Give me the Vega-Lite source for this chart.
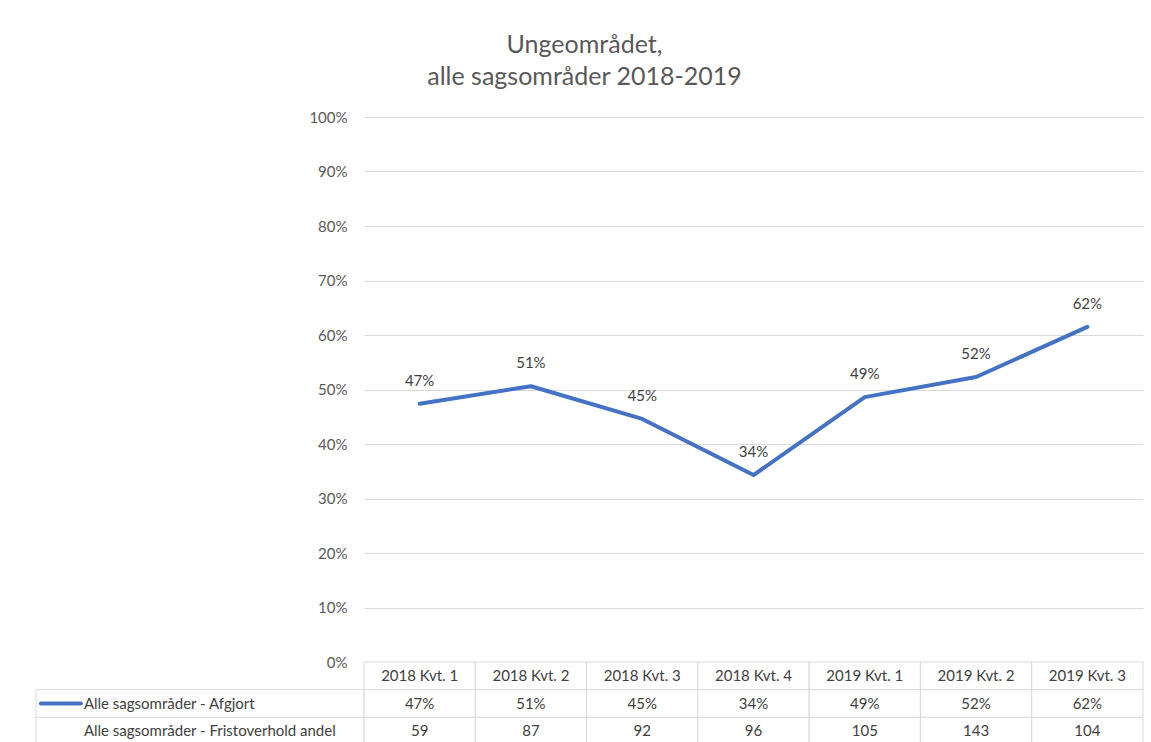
{
  "$schema": "https://vega.github.io/schema/vega-lite/v6.json",
  "background": "white",
  "padding": {"left": 35, "top": 33, "right": 9, "bottom": 0},
  "title": {
    "text": ["Ungeområdet,", "alle sagsområder 2018-2019"],
    "fontSize": 25,
    "lineHeight": 32,
    "font": "Lato",
    "fontWeight": "normal",
    "color": "#595959",
    "anchor": "middle",
    "offset": 20,
    "dx": -5
  },
  "datasets": {
    "main": [
      {"kvt": "2018 Kvt. 1", "afgjort": 0.474, "frist": 59},
      {"kvt": "2018 Kvt. 2", "afgjort": 0.506, "frist": 87},
      {"kvt": "2018 Kvt. 3", "afgjort": 0.446, "frist": 92},
      {"kvt": "2018 Kvt. 4", "afgjort": 0.343, "frist": 96},
      {"kvt": "2019 Kvt. 1", "afgjort": 0.486, "frist": 105},
      {"kvt": "2019 Kvt. 2", "afgjort": 0.523, "frist": 143},
      {"kvt": "2019 Kvt. 3", "afgjort": 0.615, "frist": 104}
    ],
    "rows": [
      {"row": "a", "label": "Alle sagsområder - Afgjort"},
      {"row": "f", "label": "Alle sagsområder - Fristoverhold andel"}
    ]
  },
  "columns": 2,
  "spacing": 0,
  "bounds": "flush",
  "concat": [
    {
      "width": 328,
      "height": 545,
      "data": {"values": []},
      "mark": {"type": "point", "opacity": 0},
      "encoding": {}
    },
    {
      "width": 779,
      "height": 545,
      "data": {"name": "main"},
      "encoding": {
        "x": {"field": "kvt", "type": "nominal", "sort": null, "scale": {"type": "point", "padding": 0.5}, "axis": null},
        "y": {
          "field": "afgjort",
          "type": "quantitative",
          "scale": {"domain": [0, 1]},
          "axis": {
            "values": [0, 0.1, 0.2, 0.3, 0.4, 0.5, 0.6, 0.7, 0.8, 0.9, 1],
            "format": ".0%",
            "domain": false,
            "ticks": false,
            "labelPadding": 17,
            "labelFontSize": 15,
            "labelFont": "Lato",
            "labelColor": "#595959",
            "gridColor": "#d9d9d9",
            "gridWidth": 1,
            "title": null
          }
        }
      },
      "layer": [
        {"mark": {"type": "line", "color": "#4472C4", "strokeWidth": 4, "strokeCap": "round", "strokeJoin": "round"}},
        {
          "mark": {"type": "text", "dy": -23, "fontSize": 15, "font": "Lato", "color": "#404040"},
          "encoding": {"text": {"field": "afgjort", "type": "quantitative", "format": ".0%"}}
        }
      ]
    },
    {
      "width": 328,
      "height": 83,
      "data": {"name": "rows"},
      "encoding": {
        "y": {"field": "row", "type": "nominal", "scale": {"domain": ["h", "a", "f"], "paddingInner": 0, "paddingOuter": 0}, "axis": null}
      },
      "layer": [
        {
          "mark": {"type": "rect", "fill": "white", "stroke": "#d9d9d9", "strokeWidth": 1},
          "encoding": {
            "x": {"datum": 0, "type": "quantitative", "scale": {"domain": [0, 1]}, "axis": null},
            "x2": {"datum": 1}
          }
        },
        {
          "mark": {"type": "text", "align": "left", "fontSize": 15, "font": "Lato", "color": "#404040"},
          "encoding": {
            "x": {"datum": 0.146, "type": "quantitative"},
            "text": {"field": "label"}
          }
        },
        {
          "transform": [{"filter": "datum.row === 'a'"}],
          "mark": {"type": "rule", "color": "#4472C4", "strokeWidth": 4, "strokeCap": "round"},
          "encoding": {
            "x": {"datum": 0.015, "type": "quantitative"},
            "x2": {"datum": 0.137}
          }
        }
      ]
    },
    {
      "width": 779,
      "height": 83,
      "data": {"name": "main"},
      "encoding": {
        "x": {"field": "kvt", "type": "nominal", "sort": null, "scale": {"type": "band", "paddingInner": 0, "paddingOuter": 0}, "axis": null}
      },
      "layer": [
        {
          "mark": {"type": "rect", "fill": "white", "stroke": "#d9d9d9", "strokeWidth": 1},
          "encoding": {"y": {"datum": "h", "type": "nominal", "scale": {"domain": ["h", "a", "f"], "paddingInner": 0, "paddingOuter": 0}, "axis": null}}
        },
        {
          "mark": {"type": "rect", "fill": "white", "stroke": "#d9d9d9", "strokeWidth": 1},
          "encoding": {"y": {"datum": "a", "type": "nominal"}}
        },
        {
          "mark": {"type": "rect", "fill": "white", "stroke": "#d9d9d9", "strokeWidth": 1},
          "encoding": {"y": {"datum": "f", "type": "nominal"}}
        },
        {
          "mark": {"type": "text", "fontSize": 15, "font": "Lato", "color": "#404040"},
          "encoding": {"y": {"datum": "h", "type": "nominal"}, "text": {"field": "kvt"}}
        },
        {
          "mark": {"type": "text", "fontSize": 15, "font": "Lato", "color": "#404040"},
          "encoding": {"y": {"datum": "a", "type": "nominal"}, "text": {"field": "afgjort", "type": "quantitative", "format": ".0%"}}
        },
        {
          "mark": {"type": "text", "fontSize": 15, "font": "Lato", "color": "#404040"},
          "encoding": {"y": {"datum": "f", "type": "nominal"}, "text": {"field": "frist", "type": "quantitative"}}
        }
      ]
    }
  ],
  "config": {
    "view": {"stroke": null},
    "font": "Lato"
  }
}
